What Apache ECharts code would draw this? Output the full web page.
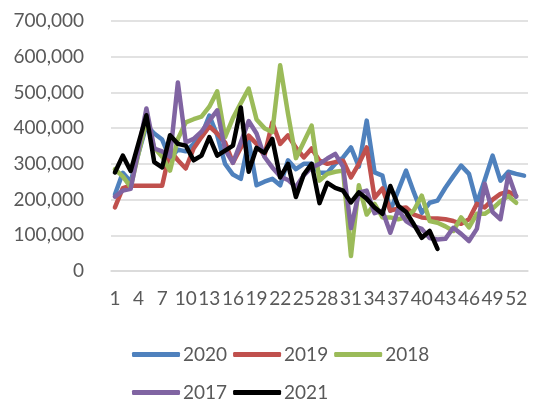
<!DOCTYPE html>
<html lang="en">
  <head>
    <meta charset="UTF-8" />
    <title>Weekly totals 2017-2021</title>
    <style>
      html,
      body {
        margin: 0;
        padding: 0;
        background: #fff;
      }

      #main {
        width: 550px;
        height: 414px;
      }
    </style>
  </head>

  <body>
    <div id="main"></div>

    <script src="https://cdn.jsdelivr.net/npm/echarts@6/dist/echarts.min.js"></script>
    <script>
      // week numbers 1..53 (2020 has a 53rd week)
      var weeks = [
        "1", "2", "3", "4", "5", "6", "7", "8", "9", "10",
        "11", "12", "13", "14", "15", "16", "17", "18", "19", "20",
        "21", "22", "23", "24", "25", "26", "27", "28", "29", "30",
        "31", "32", "33", "34", "35", "36", "37", "38", "39", "40",
        "41", "42", "43", "44", "45", "46", "47", "48", "49", "50",
        "51", "52", "53"
      ];

      var y2020 = [
        214000, 275000, 250000, 330000, 408000, 385000, 368000, 315000, 340000, 335000,
        356000, 380000, 435000, 380000, 300000, 270000, 258000, 365000, 240000, 250000,
        258000, 240000, 310000, 285000, 300000, 300000, 275000, 275000, 300000, 318000,
        346000, 292000, 421000, 276000, 267000, 169000, 225000, 281000, 220000, 163000,
        191000, 197000, 233000, 265000, 295000, 272000, 190000, 255000, 323000, 253000,
        278000, 272000, 267000
      ];

      var y2019 = [
        178000, 232000, 239000, 239000, 239000, 239000, 239000, 337000, 310000, 287000,
        343000, 375000, 405000, 385000, 360000, 303000, 345000, 379000, 356000, 323000,
        416000, 356000, 380000, 345000, 318000, 343000, 309000, 300000, 305000, 309000,
        262000, 300000, 346000, 205000, 231000, 169000, 175000, 178000, 158000, 150000,
        148000, 147000, 145000, 140000, 132000, 145000, 188000, 178000, 200000, 216000,
        222000, 210000
      ];

      var y2018 = [
        285000, 265000, 235000, 330000, 420000, 345000, 320000, 281000, 370000, 416000,
        425000, 432000, 460000, 503000, 375000, 428000, 470000, 511000, 424000, 400000,
        389000, 576000, 440000, 316000, 361000, 407000, 253000, 272000, 278000, 281000,
        42000, 240000, 158000, 188000, 150000, 150000, 145000, 150000, 170000, 211000,
        140000, 135000, 125000, 112000, 150000, 122000, 160000, 160000, 175000, 195000,
        210000, 191000
      ];

      var y2017 = [
        208000, 225000, 230000, 340000, 455000, 343000, 335000, 320000, 528000, 360000,
        370000, 390000, 421000, 450000, 340000, 303000, 360000, 420000, 385000, 320000,
        290000, 265000, 255000, 235000, 268000, 290000, 300000, 315000, 328000, 292000,
        120000, 219000, 225000, 162000, 169000, 107000, 172000, 140000, 126000, 118000,
        92000, 88000, 90000, 121000, 104000, 84000, 118000, 244000, 165000, 145000,
        270000, 208000
      ];

      var y2021 = [
        276000, 323000, 280000, 358000, 436000, 305000, 290000, 380000, 356000, 351000,
        310000, 323000, 375000, 323000, 337000, 351000, 458000, 278000, 345000, 331000,
        370000, 262000, 300000, 207000, 270000, 300000, 190000, 247000, 233000, 225000,
        192000, 220000, 202000, 178000, 160000, 238000, 183000, 165000, 130000, 93000,
        112000, 62000
      ];

      var seriesNames = ["2020", "2019", "2018", "2017", "2021"];
      var seriesColors = ["#4F81BD", "#C0504D", "#9BBB59", "#8064A2", "#000000"];
      var seriesData = [y2020, y2019, y2018, y2017, y2021];

      var FONT = "Lato";
      var TEXT_COLOR = "#595959";
      var GRID_COLOR = "#D9D9D9";

      var chart = echarts.init(document.getElementById("main"));

      function legendBlock(names, top) {
        return {
          data: names,
          top: top,
          left: 127,
          orient: "horizontal",
          icon: "roundRect",
          itemWidth: 48,
          itemHeight: 5,
          itemGap: 6,
          textStyle: {
            fontFamily: FONT,
            fontSize: 19,
            color: TEXT_COLOR,
            padding: [0, 0, 0, -2]
          }
        };
      }

      chart.setOption({
        animation: false,
        color: seriesColors,
        grid: {
          left: 111,
          right: 22,
          top: 21,
          bottom: 143
        },
        legend: [
          legendBlock(["2020", "2019", "2018"], 340),
          legendBlock(["2017", "2021"], 378)
        ],
        xAxis: {
          type: "category",
          data: weeks,
          boundaryGap: true,
          axisLine: {
            lineStyle: { color: GRID_COLOR, width: 1.5 }
          },
          axisTick: { show: false },
          axisLabel: {
            interval: 2,
            margin: 18,
            fontFamily: FONT,
            fontSize: 19,
            color: TEXT_COLOR
          }
        },
        yAxis: {
          type: "value",
          min: 0,
          max: 700000,
          interval: 100000,
          axisLine: { show: false },
          axisTick: { show: false },
          splitLine: {
            lineStyle: { color: GRID_COLOR, width: 1.5 }
          },
          axisLabel: {
            margin: 27,
            fontFamily: FONT,
            fontSize: 19,
            color: TEXT_COLOR,
            formatter: function(v) {
              return v.toLocaleString("en-US");
            }
          }
        },
        series: seriesNames.map(function(name, i) {
          return {
            name: name,
            type: "line",
            data: seriesData[i],
            symbol: "none",
            lineStyle: {
              width: 4.5,
              color: seriesColors[i],
              join: "round",
              cap: "round"
            },
            itemStyle: { color: seriesColors[i] }
          };
        })
      });
    </script>
  </body>
</html>
